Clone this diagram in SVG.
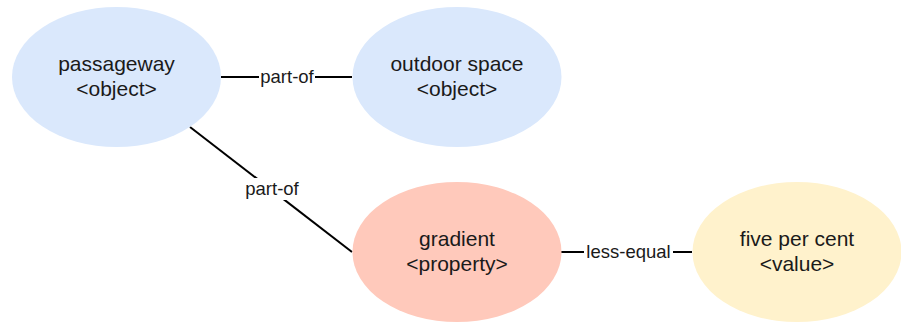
<svg xmlns="http://www.w3.org/2000/svg" width="901" height="322" viewBox="0 0 901 322">
<style>
.node text{font-family:"Liberation Sans",Arial,sans-serif;font-size:21px;fill:#1a1a1a;text-anchor:middle}
.edge line{stroke:#000;stroke-width:2}
.lbl rect{fill:#fff}
.lbl text{font-family:"Liberation Sans",Arial,sans-serif;font-size:18.5px;fill:#1a1a1a;text-anchor:middle}
</style>
<rect width="901" height="322" fill="#fff"/>
<g id="connectors" class="edge">
<line x1="221" y1="77" x2="352" y2="77"/>
<line x1="190" y1="127" x2="352" y2="252"/>
<line x1="561" y1="252" x2="692" y2="252"/>
<g class="lbl"><rect x="259" y="66" width="56" height="22"/><text x="287" y="83">part-of</text></g>
<g class="lbl"><rect x="244" y="178" width="56" height="22"/><text x="272" y="195">part-of</text></g>
<g class="lbl"><rect x="584" y="241" width="89" height="22"/><text x="628.5" y="258">less-equal</text></g>
</g>
<g id="passageway" class="node"><ellipse cx="116.5" cy="77" rx="104.5" ry="70" fill="#dae8fc"/><text x="116.5" y="71">passageway</text><text x="116.5" y="95.5">&lt;object&gt;</text></g>
<g id="outdoor-space" class="node"><ellipse cx="457" cy="77" rx="104.5" ry="70" fill="#dae8fc"/><text x="457" y="71">outdoor space</text><text x="457" y="95.5">&lt;object&gt;</text></g>
<g id="gradient" class="node"><ellipse cx="457" cy="252" rx="104.5" ry="70" fill="#ffc9bb"/><text x="457" y="246">gradient</text><text x="457" y="270.5">&lt;property&gt;</text></g>
<g id="five-per-cent" class="node"><ellipse cx="797" cy="252" rx="104.5" ry="70" fill="#fff2cc"/><text x="797" y="246">five per cent</text><text x="797" y="270.5">&lt;value&gt;</text></g>
</svg>
